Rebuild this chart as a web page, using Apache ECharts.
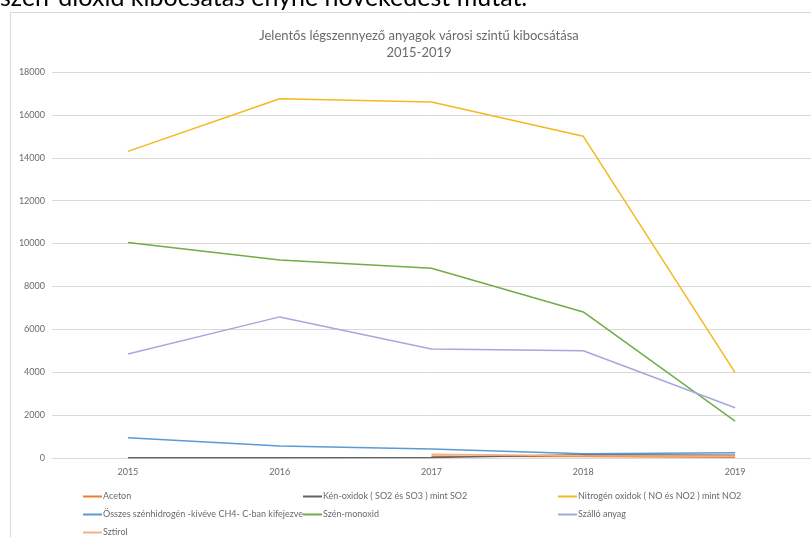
<!DOCTYPE html>
<html>
<head>
<meta charset="utf-8">
<script src="https://cdn.jsdelivr.net/npm/echarts@6/dist/echarts.min.js"></script>
<style>
html,body{margin:0;padding:0;background:#fff;}
#c{width:811px;height:537px;}
</style>
</head>
<body>
<div id="c"></div>
<script>
const categories = ['2015', '2016', '2017', '2018', '2019'];
const aceton = [null, null, 80, 70, 40];
const kenOxidok = [10, 10, 20, 150, 130];
const nitrogenOxidok = [14300, 16750, 16600, 15000, 3980];
const osszesSzenhidrogen = [950, 560, 420, 200, 250];
const szenMonoxid = [10050, 9230, 8850, 6810, 1720];
const szalloAnyag = [4850, 6580, 5080, 5000, 2340];
const sztirol = [null, null, 170, 110, 90];

const seriesNames = [
  'Aceton',
  'Kén-oxidok ( SO2 és SO3 ) mint SO2',
  'Nitrogén oxidok ( NO és NO2 ) mint NO2',
  'Összes szénhidrogén -kivéve CH4- C-ban kifejezve',
  'Szén-monoxid',
  'Szálló anyag',
  'Sztirol'
];
const seriesData = [aceton, kenOxidok, nitrogenOxidok, osszesSzenhidrogen, szenMonoxid, szalloAnyag, sztirol];
const colors = ['#ED7D31', '#636363', '#F2BA1E', '#5B9BD5', '#70AD47', '#A5A9DA', '#F4B183'];

const legendPos = [
  [78, 487], [298, 487], [553, 487],
  [78, 505], [298, 505], [553, 505],
  [78, 523]
];

const font = 'Lato, "Open Sans", sans-serif';

const chart = echarts.init(document.getElementById('c'), null, {renderer: 'canvas'});
chart.setOption({
  backgroundColor: '#fff',
  animation: false,
  textStyle: {fontFamily: font},
  title: {
    text: 'Jelentős légszennyező anyagok városi szintű kibocsátása\n2015-2019',
    left: 414, top: 22, textAlign: 'center',
    textStyle: {fontSize: 13, fontWeight: 'normal', color: '#6A6A6A', fontFamily: font, lineHeight: 17}
  },
  graphic: [
    {type: 'text', left: 0, top: -15, style: {text: 'szén-dioxid kibocsátás enyhe növekedést mutat.', fontSize: 25, fontFamily: font, fill: '#000'}},
    {type: 'polyline', shape: {points: [[10.5, 540], [10.5, 12.5], [820, 12.5]]}, style: {stroke: '#D9D9D9', lineWidth: 1, fill: null}}
  ],
  legend: seriesNames.map((n, i) => ({
    data: [n], left: legendPos[i][0], top: legendPos[i][1],
    icon: 'rect', itemWidth: 19, itemHeight: 2, itemGap: 0,
    textStyle: {fontSize: 9, color: '#6A6A6A', fontFamily: font, padding: [0, 0, 0, -4]}
  })),
  grid: {left: 52, top: 72, width: 765, height: 386, containLabel: false},
  xAxis: {
    type: 'category', data: categories, boundaryGap: true,
    axisLine: {show: true, lineStyle: {color: '#D9D9D9'}},
    axisTick: {show: false},
    axisLabel: {color: '#6A6A6A', fontSize: 9, margin: 10, fontFamily: font}
  },
  yAxis: {
    type: 'value', min: 0, max: 18000, interval: 2000,
    axisLine: {show: false}, axisTick: {show: false},
    axisLabel: {color: '#6A6A6A', fontSize: 9, margin: 7, fontFamily: font, formatter: v => String(v)},
    splitLine: {lineStyle: {color: '#D9D9D9', width: 1}}
  },
  series: seriesNames.map((n, i) => ({
    name: n, type: 'line', data: seriesData[i],
    symbol: 'none', lineStyle: {width: 1.5, color: colors[i]},
    itemStyle: {color: colors[i]}, connectNulls: false
  }))
});
</script>
</body>
</html>
